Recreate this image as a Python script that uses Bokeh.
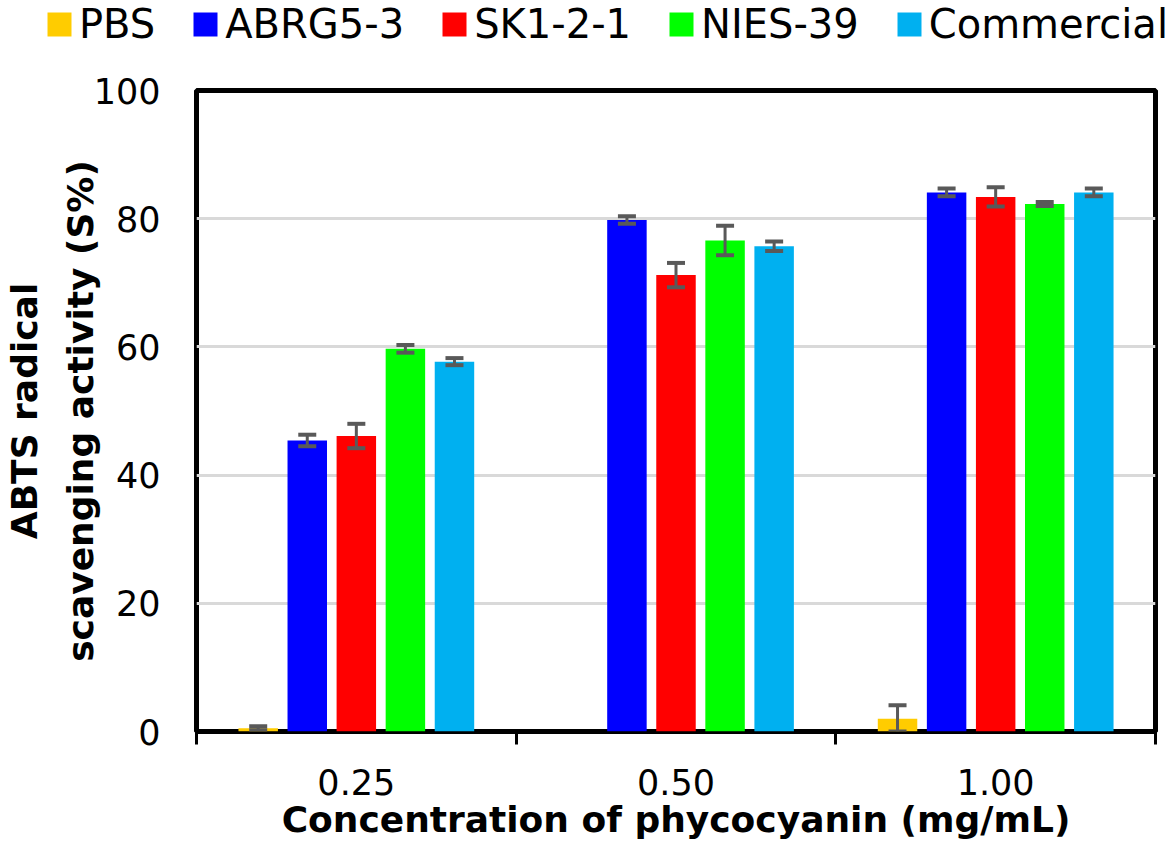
from bokeh.plotting import figure
from bokeh.layouts import column
from bokeh.models import (ColumnDataSource, Range1d, FixedTicker, LinearAxis,
                          Legend, LegendItem, Whisker, TeeHead)
from bokeh.embed import file_html
from bokeh.resources import INLINE

# ---- data ----
concentrations = ["0.25", "0.50", "1.00"]
series_names = ["PBS", "ABRG5-3", "SK1-2-1", "NIES-39", "Commercial"]
pbs = [0.5, 0.0, 2.0]
pbs_err = [0.3, 0.0, 2.1]
abrg = [45.4, 79.8, 84.1]
abrg_err = [0.9, 0.6, 0.6]
sk = [46.1, 71.2, 83.4]
sk_err = [1.9, 1.9, 1.5]
nies = [59.7, 76.6, 82.3]
nies_err = [0.6, 2.3, 0.3]
commercial = [57.7, 75.7, 84.1]
commercial_err = [0.55, 0.75, 0.6]
y_ticks = [0, 20, 40, 60, 80, 100]

values = [pbs, abrg, sk, nies, commercial]
errors = [pbs_err, abrg_err, sk_err, nies_err, commercial_err]
colors = ["#FFCC00", "#0000FF", "#FF0000", "#00FF00", "#00B0F0"]

FONT = "DejaVu Sans"
ERR_COLOR = "#595959"
LH = 60  # height of the strip that carries the legend

# legend strip (a figure of its own, so that the legend is not clipped)
lf = figure(width=1172, height=LH, x_range=Range1d(0, 3), y_range=Range1d(0, 100),
            output_backend="svg", toolbar_location=None,
            x_axis_location=None, y_axis_location=None, min_border=0)
lf.frame_align = False
lf.outline_line_color = None
lf.xgrid.visible = False
lf.ygrid.visible = False
lf.background_fill_color = "white"
lf.border_fill_color = "white"

p = figure(width=1172, height=863 - LH, x_range=Range1d(0, 3), y_range=Range1d(0, 100),
           output_backend="svg", toolbar_location=None,
           min_border_left=196, min_border_right=17, min_border_top=90 - LH,
           min_border_bottom=132)
p.frame_align = False
p.background_fill_color = "white"
p.border_fill_color = "white"
p.outline_line_color = "black"
p.outline_line_width = 5

step = 0.1535
bar_w = 0.1235
items = []
for j, (name, vals, errs, col) in enumerate(zip(series_names, values, errors, colors)):
    xs = [i + 0.5 + (j - 2) * step for i in range(len(concentrations))]
    src = ColumnDataSource(dict(x=xs, top=vals, conc=concentrations))
    p.vbar(x="x", top="top", width=bar_w, source=src, fill_color=col, line_color=None)
    lr = lf.vbar(x="x", top="top", width=bar_w, source=src, fill_color=col,
                 line_color=None, visible=False)
    items.append(LegendItem(label=name, renderers=[lr]))
    wx, wu, wl = [], [], []
    for x, v, e in zip(xs, vals, errs):
        if e > 0:
            wx.append(x); wu.append(v + e); wl.append(max(v - e, 0))
    wsrc = ColumnDataSource(dict(x=wx, upper=wu, lower=wl))
    w = Whisker(source=wsrc, base="x", upper="upper", lower="lower", level="annotation",
                line_color=ERR_COLOR, line_width=3,
                upper_head=TeeHead(size=18, line_color=ERR_COLOR, line_width=4),
                lower_head=TeeHead(size=18, line_color=ERR_COLOR, line_width=4))
    p.add_layout(w)

leg = Legend(items=items, orientation="horizontal", location=(44, 13),
             padding=0, margin=0, spacing=35, glyph_width=30, glyph_height=30,
             label_standoff=5, label_text_font=FONT, label_text_font_size="40px",
             label_text_color="black", border_line_color=None, background_fill_alpha=0)
lf.add_layout(leg)

# x axis: labels at category centres, ticks at category boundaries
p.xaxis.ticker = FixedTicker(ticks=[i + 0.5 for i in range(len(concentrations))],
                             minor_ticks=list(range(len(concentrations) + 1)))
p.xaxis.major_label_overrides = {i + 0.5: c for i, c in enumerate(concentrations)}
p.xaxis.axis_line_color = None
p.xaxis.major_tick_out = 0
p.xaxis.major_tick_in = 0
p.xaxis.minor_tick_out = 13
p.xaxis.minor_tick_in = 0
p.xaxis.minor_tick_line_width = 3
p.xaxis.minor_tick_line_color = "black"
p.xaxis.major_label_standoff = 24
p.xaxis.major_label_text_font = FONT
p.xaxis.major_label_text_font_size = "35px"
p.xaxis.major_label_text_color = "black"
p.xaxis.axis_label = "Concentration of phycocyanin (mg/mL)"
p.xaxis.axis_label_text_font = FONT
p.xaxis.axis_label_text_font_size = "36px"
p.xaxis.axis_label_text_font_style = "bold"
p.xaxis.axis_label_text_color = "black"
p.xaxis.axis_label_standoff = 1

# y axis
p.yaxis.ticker = FixedTicker(ticks=y_ticks)
p.yaxis.axis_line_color = None
p.yaxis.major_tick_out = 0
p.yaxis.major_tick_in = 0
p.yaxis.minor_tick_out = 0
p.yaxis.minor_tick_in = 0
p.yaxis.major_label_standoff = 36
p.yaxis.major_label_text_font = FONT
p.yaxis.major_label_text_font_size = "35px"
p.yaxis.major_label_text_color = "black"
p.yaxis.axis_label = "scavenging activity (S%)"
p.yaxis.axis_label_text_font = FONT
p.yaxis.axis_label_text_font_size = "36px"
p.yaxis.axis_label_text_font_style = "bold"
p.yaxis.axis_label_text_color = "black"
p.yaxis.axis_label_standoff = -10

ax2 = LinearAxis(ticker=FixedTicker(ticks=[]), axis_label="ABTS radical",
                 axis_line_color=None, major_tick_out=0, major_tick_in=0,
                 minor_tick_out=0, minor_tick_in=0, major_label_text_font_size="0px",
                 major_label_standoff=0, axis_label_standoff=12,
                 axis_label_text_font=FONT, axis_label_text_font_size="36px",
                 axis_label_text_font_style="bold", axis_label_text_color="black")
p.add_layout(ax2, "left")

p.ygrid.grid_line_color = "#d9d9d9"
p.ygrid.grid_line_width = 3
p.xgrid.grid_line_color = None

layout = column(lf, p, spacing=0)
open("out.html", "w").write(file_html(layout, INLINE))
